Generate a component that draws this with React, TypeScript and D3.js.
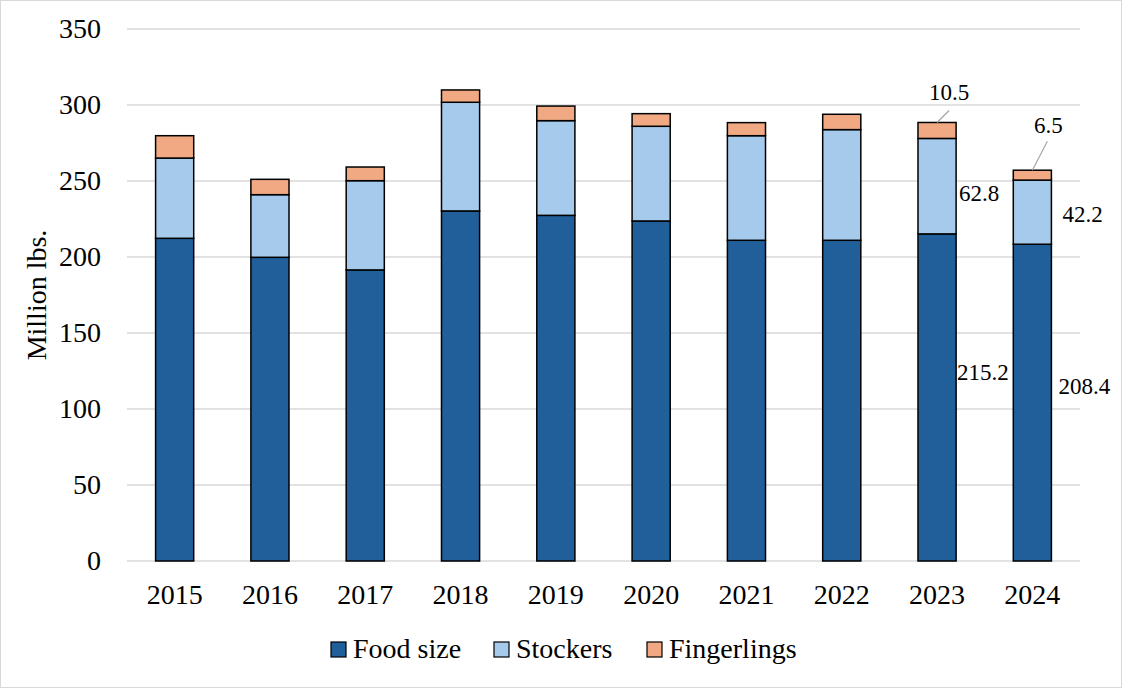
import * as d3 from "d3";

const years = ["2015", "2016", "2017", "2018", "2019", "2020", "2021", "2022", "2023", "2024"];
const foodSize = [212.3, 199.8, 191.5, 230.3, 227.4, 223.7, 211.0, 211.0, 215.2, 208.4];
const stockers = [52.8, 41.2, 58.7, 71.5, 62.3, 62.3, 68.8, 72.8, 62.8, 42.2];
const fingerlings = [14.7, 10.1, 9.0, 8.1, 9.6, 8.3, 8.6, 10.1, 10.5, 6.5];
const seriesNames = ["Food size", "Stockers", "Fingerlings"];
const yTicks = [0, 50, 100, 150, 200, 250, 300, 350];

// which values get a data label (year, series index)
const labelled = [
  { year: "2023", series: 0 },
  { year: "2023", series: 1 },
  { year: "2023", series: 2 },
  { year: "2024", series: 0 },
  { year: "2024", series: 1 },
  { year: "2024", series: 2 },
];

const colors = ["#215F9A", "#A6CAEC", "#F1A983"];
const font = "Liberation Serif";

export default function App() {
  const width = 1122;
  const height = 688;
  const margin = { top: 29, right: 42, bottom: 127, left: 127 };

  const rows = years.map((y, i) => ({
    year: y,
    "Food size": foodSize[i],
    Stockers: stockers[i],
    Fingerlings: fingerlings[i],
  }));
  const stacked = d3.stack<any>().keys(seriesNames)(rows);

  const x = d3
    .scaleBand()
    .domain(years)
    .range([margin.left, width - margin.right])
    .paddingInner(0.6)
    .paddingOuter(0.3);

  const y = d3
    .scaleLinear()
    .domain([0, 350])
    .range([height - margin.bottom, margin.top]);

  const bw = x.bandwidth();

  // hand-placed label offsets, as in the source chart
  const labelPos = (year: string, s: number) => {
    const i = years.indexOf(year);
    const seg = stacked[s][i];
    const left = x(year)!;
    const cx = left + bw / 2;
    const mid = (y(seg[0]) + y(seg[1])) / 2;
    const top = y(seg[1]);
    if (year === "2023") {
      if (s === 0) return { x: left + bw + 1, y: mid - 17, anchor: "start" };
      if (s === 1) return { x: left + bw + 3, y: mid + 15, anchor: "start" };
      return { x: cx + 12, y: top - 22, anchor: "middle", lx1: cx, ly1: top, lx2: cx + 12, ly2: top - 12 };
    }
    if (s === 0) return { x: left + bw + 7, y: mid - 9, anchor: "start" };
    if (s === 1) return { x: left + bw + 11, y: mid + 10, anchor: "start" };
    return { x: cx + 16, y: top - 37, anchor: "middle", lx1: cx, ly1: top, lx2: cx + 15, ly2: top - 29 };
  };

  const legendX = [331, 494, 647];
  const textStyle = { fontFamily: font };

  return (
    <svg
      width={width}
      height={height}
      style={{ position: "absolute", left: 0, top: 0, background: "#fff", fontFamily: font }}
    >
      <rect x={0.5} y={0.5} width={width - 1} height={height - 1} fill="#fff" stroke="#d9d9d9" />

      {/* grid */}
      {yTicks.map((t) => (
        <g key={t}>
          <line
            x1={margin.left}
            x2={width - margin.right}
            y1={y(t)}
            y2={y(t)}
            stroke="#d9d9d9"
            strokeWidth={1.5}
          />
          <text x={101} y={y(t) + 9} textAnchor="end" fontSize={28} fill="#000" style={textStyle}>
            {t}
          </text>
        </g>
      ))}

      {/* bars */}
      {stacked.map((layer, s) => (
        <g key={layer.key} fill={colors[s]} stroke="#000" strokeWidth={1.5}>
          {layer.map((d, i) => (
            <rect
              key={years[i]}
              x={x(years[i])}
              y={y(d[1])}
              width={bw}
              height={y(d[0]) - y(d[1])}
            />
          ))}
        </g>
      ))}

      {/* x labels */}
      {years.map((yr) => (
        <text key={yr} x={x(yr)! + bw / 2} y={604} textAnchor="middle" fontSize={28} fill="#000" style={textStyle}>
          {yr}
        </text>
      ))}

      {/* data labels */}
      {labelled.map((l) => {
        const i = years.indexOf(l.year);
        const v = stacked[l.series][i].data[seriesNames[l.series]];
        const p: any = labelPos(l.year, l.series);
        return (
          <g key={l.year + l.series}>
            {p.lx1 !== undefined && (
              <line x1={p.lx1} y1={p.ly1} x2={p.lx2} y2={p.ly2} stroke="#a6a6a6" strokeWidth={1.2} />
            )}
            <text x={p.x} y={p.y} textAnchor={p.anchor} fontSize={23} fill="#000" style={textStyle}>
              {d3.format(".1f")(v)}
            </text>
          </g>
        );
      })}

      {/* y title */}
      <text
        transform={`translate(46, ${(margin.top + height - margin.bottom) / 2}) rotate(-90)`}
        textAnchor="middle"
        fontSize={28}
        fill="#000"
        style={textStyle}
      >
        Million lbs.
      </text>

      {/* legend */}
      {seriesNames.map((n, s) => (
        <g key={n} transform={`translate(${legendX[s]}, 642)`}>
          <rect width={15} height={15} fill={colors[s]} stroke="#000" strokeWidth={1.2} />
          <text x={22} y={16} fontSize={28} fill="#000" style={textStyle}>
            {n}
          </text>
        </g>
      ))}
    </svg>
  );
}
